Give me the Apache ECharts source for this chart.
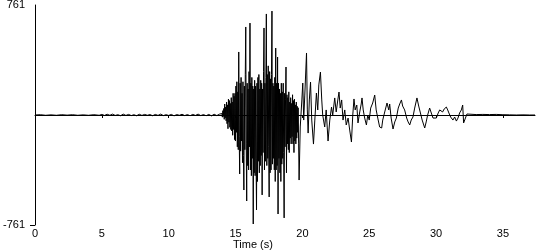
<!DOCTYPE html>
<html>
<head>
<meta charset="utf-8">
<script src="https://cdn.jsdelivr.net/npm/echarts@6/dist/echarts.min.js"></script>
<style>html,body{margin:0;padding:0;background:#fff;}#c{width:550px;height:250px;}</style>
</head>
<body>
<div id="c"></div>
<script>
// Pre-event noise: time (s) and acceleration (mm/s/s)
const preTimes = [
  0, 0.4, 0.8, 1.2, 1.6, 2.0, 2.4, 2.8, 3.2, 3.6, 4.0, 4.4, 4.8,
  5.0, 5.2, 5.4, 5.6, 5.8, 6.0, 6.2, 6.4, 6.6, 6.8, 7.0, 7.2, 7.4, 7.6, 7.8, 8.0, 8.2, 8.4, 8.6, 8.8,
  9.0, 9.2, 9.4, 9.6, 9.8, 10.0, 10.2, 10.4, 10.6, 10.8, 11.0, 11.2, 11.4, 11.6, 11.8, 12.0, 12.2, 12.4,
  12.6, 12.8, 13.0, 13.2, 13.4, 13.6, 13.8
];
const preAccel = [
  0, 2, -2, 1, -2, 2, -1, 2, -2, 1, -2, 2, -2,
  4, -3, 5, -2, 6, -3, 2, -5, 6, -3, 4, -4, 2, -5, 5, -3, 4, -2, 3, -5,
  4, -3, 6, -4, 2, -3, 4, -6, 3, -2, 5, -4, 3, -5, 4, -3, 6, -4,
  3, -5, 4, -6, 5, -4, 6
];
// Strong-motion part, sampled every denseStep seconds from denseStart
const denseStart = 13.98;
const denseStep = 0.035;
const denseAccel = [
  10, -15, 30, -10, 45, -30, 76, -20, 55, -40,
  90, -60, 70, -95, 110, -50, 100, -85, 80, -100,
  120, -110, 90, -140, 150, -100, 130, -170, 150, -180,
  200, -120, 230, -220, 160, -240, 436, -150, -408, 220,
  -250, 260, -180, 150, -330, 230, -280, -519, 200, -240,
  280, 609, -200, -595, 220, -350, 180, -380, 300, -220,
  636, -380, 220, -420, 260, -300, 200, -754, 180, -400,
  240, -420, 200, -300, -657, 220, -460, 260, -320, 280,
  -400, 180, -350, 240, -280, 220, -553, 180, -260, 300,
  602, -380, 220, -320, 260, 699, -350, 280, -300, 340,
  -220, -567, 300, -400, 250, -380, 280, 719, -340, 220,
  -300, 200, -380, 260, -460, 463, -380, 220, -350, 401,
  -685, 220, -300, 180, -400, 150, -460, 220, -340, 160,
  -300, 220, -260, -712, 150, -220, 110, 332, -400, 140,
  -200, 120, -240, 160, -260, 90, -160, 120, -200, 80,
  -150, 140, -200, 100, -260, 110, -180, 70, -200, 90,
  -160, 60, -120, 50, -200, -450
];
// Coda and post-event: time (s) and acceleration (mm/s/s)
const codaTimes = [
  19.84, 19.96, 20.03, 20.10, 20.18, 20.31, 20.37, 20.43, 20.52, 20.61, 20.70, 20.83, 20.93, 21.05,
  21.15, 21.23, 21.35, 21.45, 21.52, 21.67, 21.78, 21.92, 22.05, 22.18, 22.27, 22.42, 22.53, 22.65,
  22.74, 22.83, 22.94, 23.04, 23.17, 23.28, 23.42, 23.54, 23.67, 23.77, 23.86, 23.95, 24.07, 24.16,
  24.29, 24.40, 24.46, 24.55, 24.66, 24.79, 24.89, 25.00, 25.11, 25.26, 25.41, 25.52, 25.64, 25.78,
  25.93, 26.01, 26.16, 26.33, 26.46, 26.53, 26.64, 26.78, 26.91, 27.03, 27.17, 27.28, 27.41, 27.50,
  27.65, 27.80, 27.91, 28.03, 28.14, 28.27, 28.40, 28.57, 28.70, 28.83, 28.96, 29.15, 29.26, 29.37,
  29.52, 29.63, 29.77, 29.90, 30.02, 30.16, 30.27, 30.40, 30.49, 30.61, 30.77, 30.87, 30.96, 31.09,
  31.26, 31.39, 31.52, 31.64, 31.76, 31.89, 31.99, 32.06, 32.19, 32.31, 32.44,
  33.0, 33.5, 34.0, 34.5, 35.0, 35.5, 36.0, 36.5, 37.0, 37.4
];
const codaAccel = [
  -83, 104, 221, -35, 138, 429, 35, -125, 104, 228, -35, -201, -35, 152,
  35, 208, 297, 104, 0, -83, 35, -180, -35, 55, 0, 118, 21, 104,
  159, 48, 104, -35, 35, -69, -21, -104, -187, 0, 111, 35, 69, -55,
  21, 76, 118, 35, -21, -69, 0, -35, 48, 83, 138, 35, -21, -83,
  -90, -35, 21, 83, 35, 76, -21, -97, -48, -21, 48, 76, 104, 62,
  35, -21, -48, -69, -35, -14, 48, 118, 62, 14, -35, -90, -48, 0,
  48, 35, -21, -14, -21, 14, 35, 48, 21, 42, 55, 35, 14, -14,
  -35, -14, -42, -21, 14, 35, 69, -55, -62, 7, 3,
  3, 4, 3, 4, 2, 1, 0, 1, 0, 0
];
const xTickValues = [0, 5, 10, 15, 20, 25, 30, 35];
const yTickValues = [-761, 761];
const xName = 'Time (s)';
const yName = 'mm/s/s';

const data = [];
preTimes.forEach((t, i) => data.push([t, preAccel[i]]));
denseAccel.forEach((v, i) => data.push([denseStart + i * denseStep, v]));
codaTimes.forEach((t, i) => data.push([t, codaAccel[i]]));
const font = 'Liberation Sans, Arial, sans-serif';

const chart = echarts.init(document.getElementById('c'), null, {renderer: 'canvas'});
chart.setOption({
  animation: false,
  backgroundColor: '#fff',
  grid: {left: 35, right: 15, top: 5, bottom: 25, containLabel: false, outerBoundsMode: 'none'},
  xAxis: {
    type: 'value', min: 0, max: 37.4, interval: 5,
    axisLine: {show: true, lineStyle: {color: '#000', width: 1}},
    axisTick: {show: true, length: 3, customValues: xTickValues, lineStyle: {color: '#000'}},
    axisLabel: {customValues: xTickValues, color: '#000', fontSize: 11, fontFamily: font, margin: 3},
    splitLine: {show: false}
  },
  yAxis: {
    type: 'value', min: -761, max: 761, interval: 761,
    name: yName, nameLocation: 'middle', nameGap: 17, nameRotate: 90,
    nameTextStyle: {color: '#000', fontSize: 11, fontFamily: font},
    axisLine: {show: true, lineStyle: {color: '#000', width: 1}},
    axisTick: {show: true, length: 5, customValues: [-761], lineStyle: {color: '#000'}},
    axisLabel: {customValues: yTickValues, color: '#000', fontSize: 11, fontFamily: font, margin: 10},
    splitLine: {show: false}
  },
  graphic: [{
    type: 'text', left: 233, top: 239,
    style: {text: xName, fill: '#000', font: '11px ' + font}
  }],
  series: [{
    type: 'line', data: data, showSymbol: false, symbol: 'none', sampling: null,
    lineStyle: {color: '#000', width: 1}, clip: true
  }]
});
</script>
</body>
</html>
